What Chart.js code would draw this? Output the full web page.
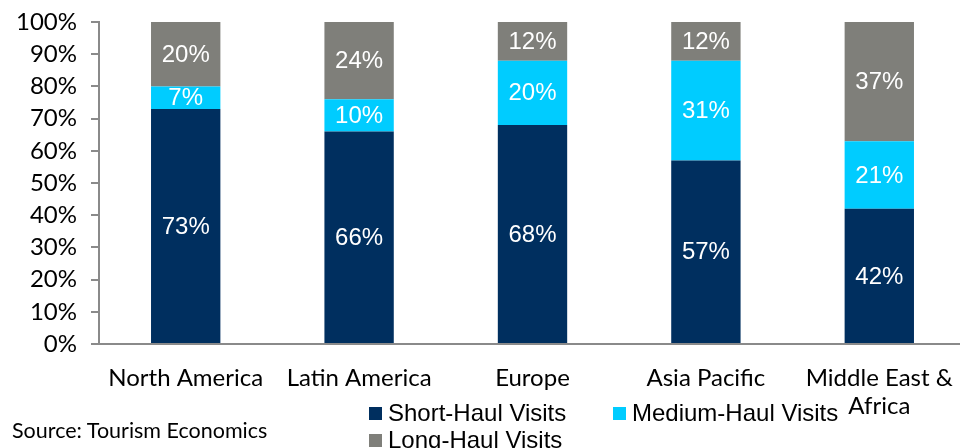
<!DOCTYPE html>
<html>
<head>
<meta charset="utf-8">
<script src="https://cdn.jsdelivr.net/npm/chart.js@4.4.1/dist/chart.umd.min.js"></script>
<style>
  html, body { margin: 0; padding: 0; background: #fff; overflow: hidden; }
  #wrap { position: relative; width: 960px; height: 448px; overflow: hidden; }
  #mychart { position: absolute; left: 0; top: 0; }
  .src { position: absolute; left: 12px; top: 417px; font: 21.5px Lato, sans-serif; color: #000; white-space: nowrap; }
  .leg { position: absolute; font: 24px "Liberation Sans", Arial, sans-serif; color: #000; white-space: nowrap; line-height: 24px; }
  .leg i { display: inline-block; width: 13px; height: 13px; margin-right: 6px; vertical-align: 1px; }
</style>
</head>
<body>
<div id="wrap">
  <canvas id="mychart" width="966" height="448"></canvas>
  <div class="src">Source: Tourism Economics</div>
  <div class="leg" style="left:369px; top:401px"><i style="background:#002f5f"></i>Short-Haul Visits</div>
  <div class="leg" style="left:613px; top:401px"><i style="background:#00ccff"></i>Medium-Haul Visits</div>
  <div class="leg" style="left:369px; top:428px"><i style="background:#7f7f7a"></i>Long-Haul Visits</div>
</div>
<script>
const regions = ["North America", "Latin America", "Europe", "Asia Pacific", ["Middle East &", "Africa"]];
const shortHaul = [73, 66, 68, 57, 42];
const mediumHaul = [7, 10, 20, 31, 21];
const longHaul = [20, 24, 12, 12, 37];
const yTicks = [0, 10, 20, 30, 40, 50, 60, 70, 80, 90, 100];

const axisGrey = '#8a8a8a';

// writes each segment's share in the middle of the segment
const segmentLabels = {
    id: 'segmentLabels',
    afterDatasetsDraw(chart) {
        const ctx = chart.ctx;
        ctx.save();
        ctx.fillStyle = '#fff';
        ctx.font = '24px "Liberation Sans", Arial, sans-serif';
        ctx.textAlign = 'center';
        ctx.textBaseline = 'middle';
        chart.data.datasets.forEach((ds, i) => {
            chart.getDatasetMeta(i).data.forEach((bar, j) => {
                const mid = (bar.y + bar.base) / 2;
                ctx.fillText(ds.data[j] + '%', bar.x, mid + 1);
            });
        });
        ctx.restore();
    }
};

var myChart = new Chart(document.getElementById('mychart'), {
    type: 'bar',
    data: {
        labels: regions,
        datasets: [
            { label: 'Short-Haul Visits', data: shortHaul, backgroundColor: '#002f5f' },
            { label: 'Medium-Haul Visits', data: mediumHaul, backgroundColor: '#00ccff' },
            { label: 'Long-Haul Visits', data: longHaul, backgroundColor: '#7f7f7a' }
        ]
    },
    options: {
        responsive: false,
        animation: false,
        layout: { padding: { top: 22, right: 0, bottom: 0, left: 0 } },
        datasets: { bar: { categoryPercentage: 1, barPercentage: 0.4 } },
        plugins: {
            legend: { display: false },
            tooltip: { enabled: false }
        },
        scales: {
            x: {
                stacked: true,
                grid: { display: false },
                border: { display: true, color: axisGrey, width: 2 },
                ticks: {
                    color: '#000',
                    font: { family: 'Lato', size: 24, lineHeight: 1.17 },
                    padding: 12,
                    maxRotation: 0,
                    autoSkip: false
                },
                afterFit(scale) { scale.height = 104; }
            },
            y: {
                stacked: true,
                min: 0,
                max: 100,
                afterBuildTicks(scale) { scale.ticks = yTicks.map(v => ({ value: v })); },
                grid: { display: true, drawOnChartArea: false, drawTicks: true, tickLength: 8, color: axisGrey, lineWidth: 2 },
                border: { display: true, color: axisGrey, width: 2 },
                ticks: {
                    color: '#000',
                    font: { family: 'Lato', size: 24 },
                    padding: 14,
                    autoSkip: false,
                    callback: v => v + '%'
                },
                afterFit(scale) {
                    scale.width = 99;
                    scale.paddingTop = 0;
                    scale.paddingBottom = 0;
                }
            }
        }
    },
    plugins: [segmentLabels]
});
</script>
</body>
</html>
